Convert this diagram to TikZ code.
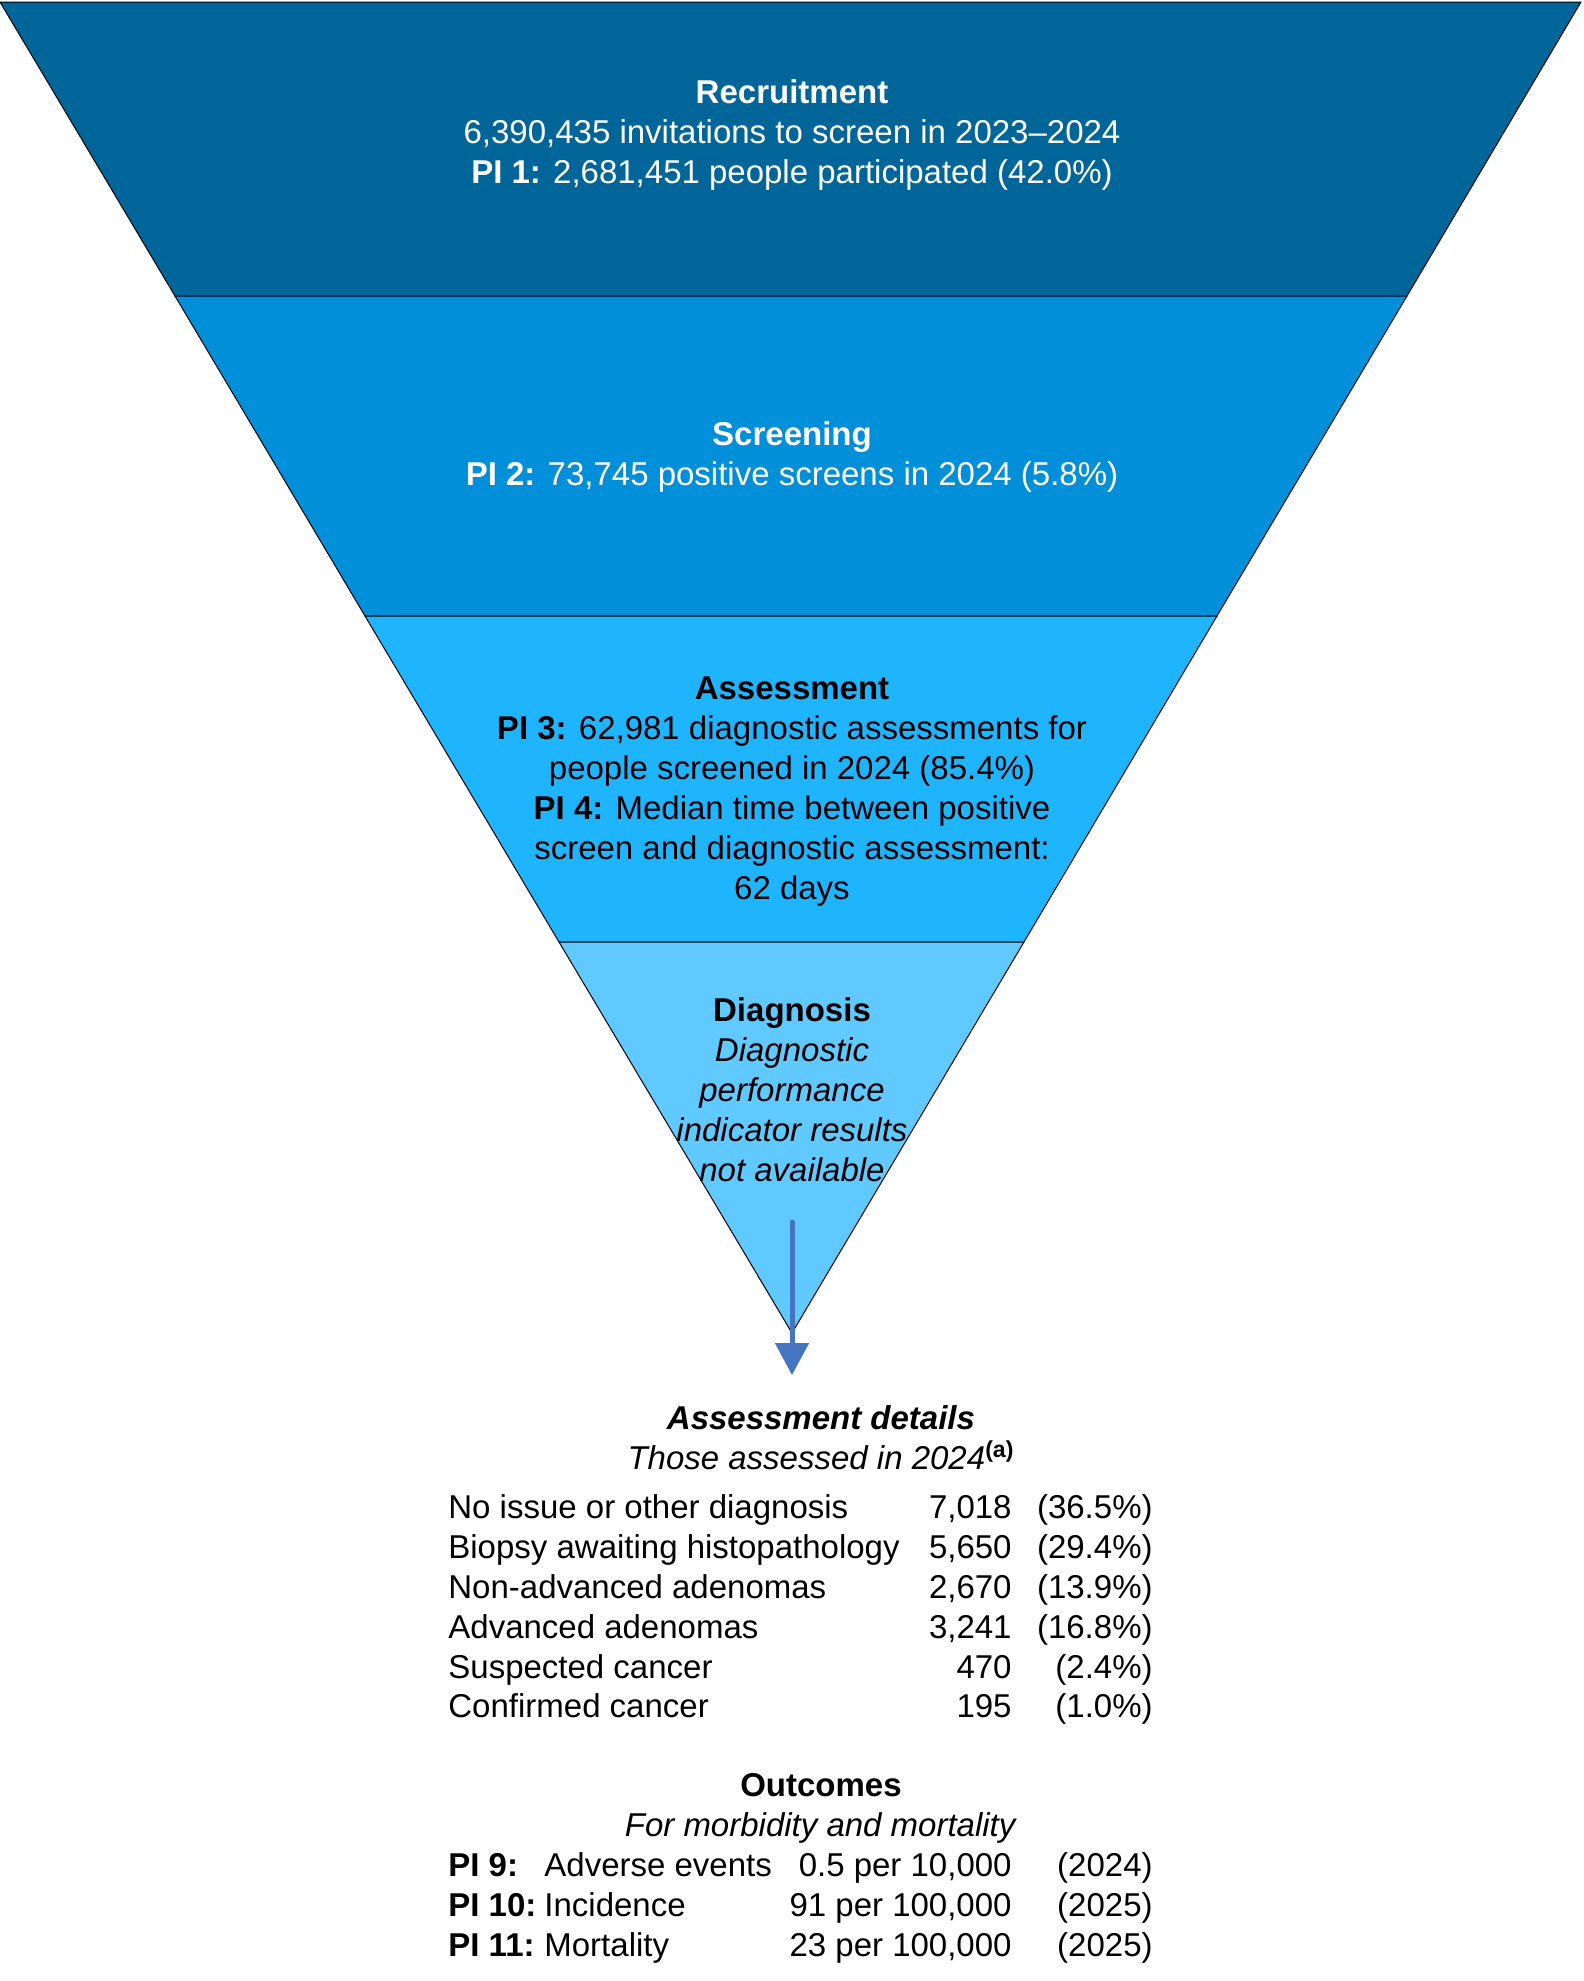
\documentclass[tikz,border=0pt]{standalone}
\usepackage{fontspec}
\setmainfont{Liberation Sans}
\usetikzlibrary{arrows.meta}
\definecolor{recblue}{HTML}{006699}
\definecolor{scrblue}{HTML}{028FDA}
\definecolor{assblue}{HTML}{1FB5FE}
\definecolor{diablue}{HTML}{60C9FF}
\definecolor{arrblue}{HTML}{4574C0}
\definecolor{seamblue}{HTML}{00375A}
\begin{document}
\begin{tikzpicture}[x=0.5pt, y=-0.5pt,
    layer/.style={draw=black, line width=0.5pt},
    txt/.style={font=\fontsize{16.5}{20}\selectfont, align=center, inner sep=0pt},
    cell/.style={font=\fontsize{16.5}{20}\selectfont, inner sep=0pt}]
\useasboundingbox (0,0) rectangle (1584,1981);

% funnel layers
\draw[layer, fill=recblue] (0,2) -- (1581,2) -- (1407,296) -- (175,296) -- cycle;
\draw[layer, fill=scrblue] (175,296) -- (1407,296) -- (1217,616) -- (365,616) -- cycle;
\draw[layer, fill=assblue] (365,616) -- (1217,616) -- (1024,942) -- (559,942) -- cycle;
\draw[layer, fill=diablue] (559,942) -- (1024,942) -- (792,1333) -- cycle;
\draw[seamblue, line width=1pt] (175,296) -- (1407,296);

% funnel texts
\node[txt, text=white] (rec) at (792,135) {\textbf{Recruitment}\\6,390,435 invitations to screen in 2023–2024\\\textbf{PI 1:} 2,681,451 people participated (42.0\%)};
\node[txt, text=white] (scr) at (792,457) {\textbf{Screening}\\\textbf{PI 2:} 73,745 positive screens in 2024 (5.8\%)};
\node[txt] (ass) at (792,792) {\textbf{Assessment}\\\textbf{PI 3:} 62,981 diagnostic assessments for\\people screened in 2024 (85.4\%)\\\textbf{PI 4:} Median time between positive\\screen and diagnostic assessment:\\62 days};
\node[txt] (dia) at (792,1090) {\textbf{Diagnosis}\\\textit{Diagnostic}\\\textit{performance}\\\textit{indicator results}\\\textit{not available}};

% arrow down to the details
\coordinate (arrS) at (792,1222);
\coordinate (arrE) at (792,1375);
\draw[arrblue, line width=2.5pt, line cap=round, -{Triangle[width=16.5pt,length=16pt]}] (arrS) -- (arrE);

% assessment details
\node[txt] (det) at (821,1438) {\textbf{\textit{Assessment details}}\\\textit{Those assessed in 2024}\textsuperscript{\textbf{(a)}}};
\foreach \lbl/\num/\pct [count=\i] in {No issue or other diagnosis/{7,018}/(36.5\%),
    Biopsy awaiting histopathology/{5,650}/(29.4\%),
    Non-advanced adenomas/{2,670}/(13.9\%),
    Advanced adenomas/{3,241}/(16.8\%),
    Suspected cancer/470/(2.4\%),
    Confirmed cancer/195/(1.0\%)}
{
  \node[cell, anchor=base west] (lbl\i) at (448,1479+39.8*\i) {\lbl};
  \node[cell, anchor=base east] (num\i) at (1012,1479+39.8*\i) {\num};
  \node[cell, anchor=base east] (pct\i) at (1153,1479+39.8*\i) {\pct};
}

% outcomes
\node[txt] (out) at (821,1808) {\textbf{Outcomes}\\\textit{For morbidity and mortality}};
\node[cell, anchor=base west] (pi9) at (448,1876) {\textbf{PI 9:}};
\node[cell, anchor=base west] (pi9t) at (544,1876) {Adverse events};
\node[cell, anchor=base east] (pi9v) at (1012,1876) {0.5 per 10,000};
\node[cell, anchor=base east] (pi9y) at (1153,1876) {(2024)};
\node[cell, anchor=base west] (pi10) at (448,1916) {\textbf{PI 10:}};
\node[cell, anchor=base west] (pi10t) at (544,1916) {Incidence};
\node[cell, anchor=base east] (pi10v) at (1012,1916) {91 per 100,000};
\node[cell, anchor=base east] (pi10y) at (1153,1916) {(2025)};
\node[cell, anchor=base west] (pi11) at (448,1956) {\textbf{PI 11:}};
\node[cell, anchor=base west] (pi11t) at (544,1956) {Mortality};
\node[cell, anchor=base east] (pi11v) at (1012,1956) {23 per 100,000};
\node[cell, anchor=base east] (pi11y) at (1153,1956) {(2025)};
\end{tikzpicture}
\end{document}
